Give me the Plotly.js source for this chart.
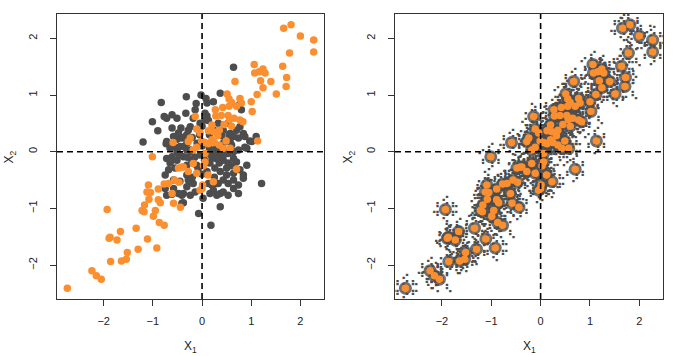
<!DOCTYPE html>
<html>
<head>
<meta charset="utf-8">
<script src="https://cdn.plot.ly/plotly-3.0.1.min.js"></script>
<style>
  html, body { margin: 0; padding: 0; background: #fff; }
  #plot { width: 677px; height: 356px; }
</style>
</head>
<body>
<div id="plot"></div>
<script>
// Orange observations (same set in both panels)
const orangeX = [1.66, 1.81, 2.00, 2.27, 2.27, 1.78, 1.64, 1.72, 1.71, 1.51, 1.06, 1.07, 1.16, 1.24, 1.28, 1.19, 1.40, 1.24, 1.12, 1.00,
  1.02, 0.67, 0.51, 0.55, 0.60, 0.77, 0.80, 0.70, 0.55, 0.42, 0.27, 0.28, 0.39, 0.53, 0.56, 0.65, 0.77, 0.83, -0.14, 0.20,
  0.60, 0.45, 0.35, 0.23, 0.13, -0.04, -0.24, 0.32, 0.49, 1.13, 0.25, 0.06, -0.11, -0.18, 0.35, 0.43, 0.06, 0.20, 0.13, -0.11,
  -0.59, -0.28, -0.01, 0.57, -1.01, -0.48, -0.38, -0.28, -1.09, -1.12, -1.05, -1.08, -0.89, -0.77, -0.68, -0.56, -0.47, -0.61, -0.58, -0.44,
  -0.89, -0.85, -1.17, -1.22, -1.18, -0.95, -0.99, -1.93, -0.87, -0.77, -1.34, -1.66, -1.87, -1.89, -1.73, -1.11, -0.92, -1.30, -1.52, -1.54,
  -1.64, -1.86, -2.24, -2.15, -2.05, -2.74, 0.70, 0.01, 0.00, 0.03, -0.18, -0.11, -0.41, 0.12, 0.23, -0.04, 0.06];
const orangeY = [2.18, 2.24, 2.04, 1.97, 1.76, 1.74, 1.51, 1.31, 1.15, 1.02, 1.54, 1.39, 1.41, 1.46, 1.39, 1.25, 1.24, 1.13, 1.01, 0.88,
  0.71, 1.24, 1.02, 0.93, 0.87, 0.94, 0.86, 0.80, 0.80, 0.78, 0.74, 0.63, 0.64, 0.64, 0.57, 0.59, 0.56, 0.53, 0.62, 0.47,
  0.45, 0.48, 0.38, 0.35, 0.37, 0.33, 0.24, 0.28, 0.19, 0.19, 0.16, 0.16, 0.08, 0.03, 0.12, 0.06, -0.03, 0.21, 0.14, 0.40,
  0.16, 0.18, 0.19, 0.06, -0.09, -0.29, -0.27, -0.35, -0.59, -0.71, -0.72, -0.84, -0.66, -0.57, -0.56, -0.50, -0.54, -0.74, -0.91, -0.98,
  -0.85, -0.90, -0.94, -1.04, -1.06, -1.04, -1.14, -1.02, -1.25, -1.30, -1.35, -1.41, -1.51, -1.53, -1.56, -1.54, -1.70, -1.72, -1.78, -1.90,
  -1.93, -1.94, -2.10, -2.19, -2.25, -2.41, -0.31, -0.59, -0.65, -0.25, -0.21, -0.38, -0.27, -0.41, -0.53, -0.68, -0.18];

// Gray observations of the left panel
const grayX = [-0.83, -0.32, -1.01, -0.77, -0.72, -0.61, -0.51, -0.33, -0.90, -0.61, -0.43, -0.28, -1.20, -0.73, -0.58, -0.51, -0.34, -0.65, -0.45, -0.31,
  -0.38, -0.61, -0.48, -0.02, 0.10, 0.06, -0.24, -0.04, -0.18, -0.72, -0.58, -0.41, -0.31, -0.48, 0.64, 0.08, 0.37, -0.14, -0.12, 0.23,
  0.76, 0.80, 0.10, 0.24, 0.77, 0.70, 0.97, 1.10, 0.64, 0.57, 0.43, 0.91, 0.74, 0.64, -0.31, -0.24, -0.38, 0.13, 0.06, 0.84,
  0.33, 0.43, 0.53, 0.57, 0.74, 0.87, 1.01, 0.30, 0.47, 0.60, 0.87, 1.21, 0.77, 0.84, 0.70, 0.64, 0.53, 0.43, 0.37, -0.07,
  0.18, -0.31, -0.28, -0.45, -0.58, -0.41, -0.24, -0.18, -0.14, 0.16, 0.30, 0.43, 0.53, 0.64, 0.74, 0.84, 0.64, 0.20, 0.33, 0.43,
  0.50, 0.37, 0.26, 0.16, 0.10, 0.50, -0.68, -0.55, -0.65, -0.51, -0.45, -0.72, -0.75, -0.72, -0.61, -0.31, -0.21, -0.11, 0.30, 0.43,
  0.53, 0.37, -0.04, 0.10, -0.21, -0.51, 0.74, 0.91, 0.64, -0.38, -0.41, 0.37, 0.23, 0.13, 0.30, 0.53, -0.75, -0.38, -0.48, -0.31,
  -0.58, -0.61, 0.00, 0.15, -0.10, 0.20, -0.15, 0.05, 0.35, -0.05, 0.15, 0.40, -0.20, 0.00, -0.20, 0.25, 0.00, 0.45, -0.30, 0.60,
  0.55, -0.25, 0.28, -0.08, 0.22, 0.02];
const grayY = [0.87, 0.97, 0.53, 0.62, 0.59, 0.65, 0.59, 0.68, 0.37, 0.42, 0.42, 0.38, 0.17, 0.14, 0.27, 0.22, 0.27, 0.06, 0.09, 0.03,
  -0.09, -0.09, -0.03, 1.00, 0.86, 0.68, 0.44, 0.50, 0.59, 0.18, 0.09, 0.24, 0.30, 0.33, 1.49, 0.94, 1.03, 0.74, 0.85, 0.88,
  0.83, 0.74, 0.63, 0.38, 0.44, 0.38, 0.19, 0.27, 0.27, 0.18, 0.15, 0.06, 0.03, 0.00, 0.15, 0.03, 0.09, 0.55, 0.56, 0.32,
  0.50, 0.38, 0.50, 0.32, 0.24, 0.27, 0.18, 0.09, 0.18, 0.12, 0.08, -0.56, -0.32, -0.41, -0.18, -0.12, -0.20, -0.15, -0.97, -1.09,
  -1.30, -0.41, -0.50, -0.52, -0.50, -0.77, -0.77, -0.56, -0.71, -0.74, -0.77, -0.71, -0.77, -0.65, -0.59, -0.47, -0.50, -0.59, -0.56, -0.50,
  -0.41, -0.35, -0.29, -0.20, -0.35, -0.29, -0.32, -0.29, -0.20, -0.15, -0.06, -0.12, -0.65, -0.77, -0.75, -0.24, -0.15, -0.24, 0.00, 0.03,
  -0.03, -0.09, -0.06, -0.03, 0.00, 0.00, -0.74, -0.24, -0.38, -0.74, -0.91, -0.74, -0.68, -0.56, -0.56, -0.56, -0.41, -0.90, -0.74, -0.62,
  -0.65, -0.15, 0.10, 0.05, 0.15, -0.10, -0.10, -0.15, -0.20, 0.30, 0.30, 0.28, 0.25, -0.40, -0.45, -0.45, 0.45, -0.05, -0.10, -0.25,
  0.30, -0.55, -0.12, -0.30, 0.02, -0.82];

const tickVals = [-2, -1, 0, 1, 2];
const xRange = [-2.95, 2.48];
const yRange = [-2.60, 2.43];

const ORANGE = "#fb8f2f";
const GRAY = "#4d4d4d";
const FRAME = "#333333";

// speckle glyphs that draw the cloud of small gray points in the right panel
const speckles = [
  "⢠⡪⣄<br>⠙⢕⠋",
  "⡠⢎⡄<br>⠘⡱⠃",
  "⢀⢵⡐<br>⠪⡊⢆",
];
const speckleText = orangeX.map((_, i) => speckles[i % speckles.length]);

function makeAxis(domain, range, anchor, isY) {
  return {
    domain: domain,
    range: range,
    anchor: anchor,
    tickvals: tickVals,
    ticks: "outside",
    ticklen: 6,
    tickwidth: 1,
    tickcolor: FRAME,
    ticklabelstandoff: isY ? 9 : 6,
    tickangle: isY ? -90 : 0,
    tickfont: { size: 11, color: "#222" },
    showline: true,
    mirror: true,
    linecolor: FRAME,
    linewidth: 1,
    showgrid: false,
    zeroline: false,
    fixedrange: true,
  };
}

const traces = [
  // left panel
  {
    x: grayX, y: grayY, xaxis: "x", yaxis: "y",
    type: "scatter", mode: "markers",
    marker: { color: GRAY, size: 7.5 },
    hoverinfo: "skip",
  },
  {
    x: orangeX, y: orangeY, xaxis: "x", yaxis: "y",
    type: "scatter", mode: "markers",
    marker: { color: ORANGE, size: 7.5 },
    hoverinfo: "skip",
  },
  // right panel: gray cloud round every orange point
  {
    x: orangeX, y: orangeY, xaxis: "x2", yaxis: "y2",
    type: "scatter", mode: "markers+text",
    marker: { color: GRAY, size: 13, opacity: 0.8 },
    text: speckleText,
    textposition: "middle center",
    textfont: { family: "DejaVu Sans", size: 12, weight: "bold", color: GRAY },
    hoverinfo: "skip",
  },
  {
    x: orangeX, y: orangeY, xaxis: "x2", yaxis: "y2",
    type: "scatter", mode: "markers",
    marker: { color: ORANGE, size: 7.5 },
    hoverinfo: "skip",
  },
];

function dashed(xref, yref) {
  return [
    { type: "line", xref: xref, yref: yref + " domain", x0: 0, x1: 0, y0: 0, y1: 1,
      line: { color: "#000", width: 1.6, dash: "6px,4px" } },
    { type: "line", xref: xref + " domain", yref: yref, x0: 0, x1: 1, y0: 0, y1: 0,
      line: { color: "#000", width: 1.6, dash: "6px,4px" } },
  ];
}

const titleFont = { size: 12, color: "#222" };

const layout = {
  width: 677,
  height: 356,
  margin: { l: 57, r: 14, t: 14, b: 57 },
  paper_bgcolor: "#fff",
  plot_bgcolor: "#fff",
  showlegend: false,
  font: { family: "Liberation Sans, Arial, sans-serif" },
  xaxis: makeAxis([0, 0.4406], xRange, "y", false),
  yaxis: makeAxis([0, 1], yRange, "x", true),
  xaxis2: makeAxis([0.5578, 1], xRange, "y2", false),
  yaxis2: makeAxis([0, 1], yRange, "x2", true),
  shapes: [...dashed("x", "y"), ...dashed("x2", "y2")],
  annotations: [
    { text: "X<sub>1</sub>", xref: "paper", yref: "paper", x: 0.2203, y: -0.168,
      showarrow: false, font: titleFont, xanchor: "center", yanchor: "middle" },
    { text: "X<sub>1</sub>", xref: "paper", yref: "paper", x: 0.7789, y: -0.168,
      showarrow: false, font: titleFont, xanchor: "center", yanchor: "middle" },
    { text: "X<sub>2</sub>", xref: "paper", yref: "paper", x: -0.0776, y: 0.5,
      showarrow: false, font: titleFont, textangle: -90, xanchor: "center", yanchor: "middle" },
    { text: "X<sub>2</sub>", xref: "paper", yref: "paper", x: 0.4818, y: 0.5,
      showarrow: false, font: titleFont, textangle: -90, xanchor: "center", yanchor: "middle" },
  ],
};

Plotly.newPlot("plot", traces, layout, { staticPlot: true, displayModeBar: false });
</script>
</body>
</html>
